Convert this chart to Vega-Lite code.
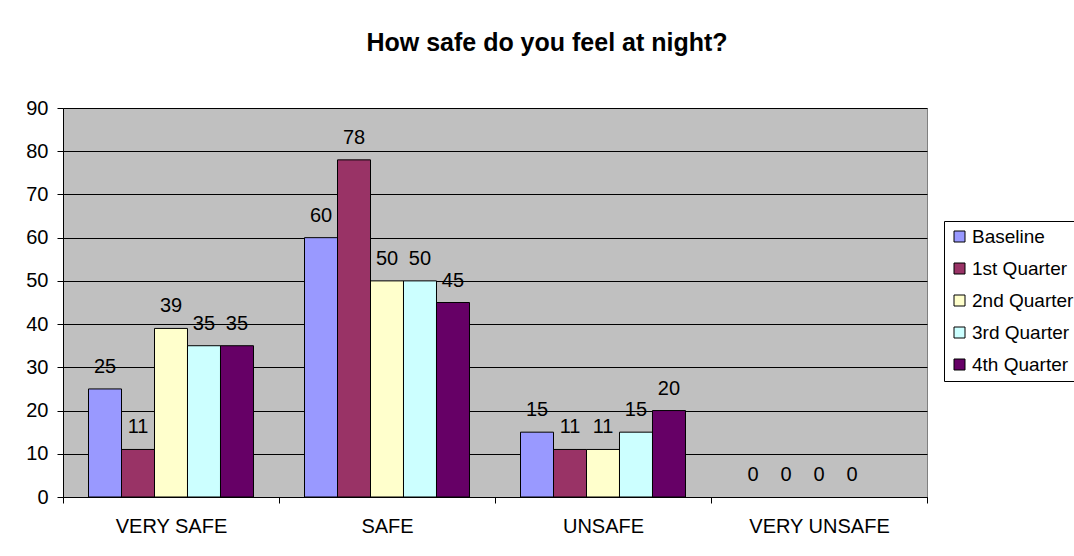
{
  "$schema": "https://vega.github.io/schema/vega-lite/v6.json",
  "width": 864,
  "height": 389,
  "autosize": {"type": "none"},
  "padding": {"left": 63, "top": 108, "right": 147, "bottom": 59},
  "background": "white",
  "title": {
    "text": "How safe do you feel at night?",
    "font": "Liberation Sans",
    "fontSize": 25,
    "fontWeight": "bold",
    "color": "black",
    "anchor": "middle",
    "frame": "group",
    "baseline": "alphabetic",
    "offset": 22,
    "dx": 52
  },
  "data": {
    "values": [
      {"feeling": "VERY SAFE", "period": "Baseline", "percent": 25},
      {"feeling": "VERY SAFE", "period": "1st Quarter", "percent": 11},
      {"feeling": "VERY SAFE", "period": "2nd Quarter", "percent": 39},
      {"feeling": "VERY SAFE", "period": "3rd Quarter", "percent": 35},
      {"feeling": "VERY SAFE", "period": "4th Quarter", "percent": 35},
      {"feeling": "SAFE", "period": "Baseline", "percent": 60},
      {"feeling": "SAFE", "period": "1st Quarter", "percent": 78},
      {"feeling": "SAFE", "period": "2nd Quarter", "percent": 50},
      {"feeling": "SAFE", "period": "3rd Quarter", "percent": 50},
      {"feeling": "SAFE", "period": "4th Quarter", "percent": 45},
      {"feeling": "UNSAFE", "period": "Baseline", "percent": 15},
      {"feeling": "UNSAFE", "period": "1st Quarter", "percent": 11},
      {"feeling": "UNSAFE", "period": "2nd Quarter", "percent": 11},
      {"feeling": "UNSAFE", "period": "3rd Quarter", "percent": 15},
      {"feeling": "UNSAFE", "period": "4th Quarter", "percent": 20},
      {"feeling": "VERY UNSAFE", "period": "Baseline", "percent": 0},
      {"feeling": "VERY UNSAFE", "period": "1st Quarter", "percent": 0},
      {"feeling": "VERY UNSAFE", "period": "2nd Quarter", "percent": 0},
      {"feeling": "VERY UNSAFE", "period": "3rd Quarter", "percent": 0}
    ]
  },
  "encoding": {
    "x": {
      "field": "feeling",
      "type": "nominal",
      "sort": ["VERY SAFE", "SAFE", "UNSAFE", "VERY UNSAFE"],
      "scale": {"paddingInner": 0, "paddingOuter": 0},
      "axis": {
        "title": null,
        "labelAngle": 0,
        "labelFont": "Liberation Sans",
        "labelFontSize": 20,
        "labelColor": "black",
        "labelPadding": 13,
        "tickBand": "extent",
        "tickSize": 6,
        "tickColor": "black",
        "domainColor": "black",
        "grid": false
      }
    },
    "xOffset": {
      "field": "period",
      "type": "nominal",
      "sort": ["Baseline", "1st Quarter", "2nd Quarter", "3rd Quarter", "4th Quarter"],
      "scale": {"paddingInner": 0, "paddingOuter": 0.773}
    },
    "y": {
      "field": "percent",
      "type": "quantitative",
      "scale": {"domain": [0, 90], "nice": false},
      "axis": {
        "title": null,
        "values": [0, 10, 20, 30, 40, 50, 60, 70, 80, 90],
        "labelFont": "Liberation Sans",
        "labelFontSize": 20,
        "labelColor": "black",
        "labelPadding": 9,
        "tickSize": 6,
        "tickColor": "black",
        "domainColor": "black",
        "grid": true,
        "gridColor": "black",
        "gridWidth": 1
      }
    }
  },
  "layer": [
    {
      "mark": {"type": "bar", "stroke": "black", "strokeWidth": 1},
      "encoding": {
        "strokeOpacity": {
          "condition": {"test": "datum.percent == 0", "value": 0},
          "value": 1
        },
        "color": {
          "field": "period",
          "type": "nominal",
          "scale": {
            "domain": ["Baseline", "1st Quarter", "2nd Quarter", "3rd Quarter", "4th Quarter"],
            "range": ["#9999FF", "#993366", "#FFFFCC", "#CCFFFF", "#660066"]
          },
          "legend": {
            "title": null,
            "orient": "none",
            "legendX": 881,
            "legendY": 113,
            "symbolType": "square",
            "symbolSize": 121,
            "symbolStrokeColor": "black",
            "symbolStrokeWidth": 1,
            "symbolOpacity": 1,
            "labelFont": "Liberation Sans",
            "labelFontSize": 19,
            "labelColor": "black",
            "labelOffset": 3,
            "labelLimit": 300,
            "rowPadding": 12,
            "padding": 6,
            "strokeColor": "black",
            "fillColor": "white"
          }
        }
      }
    },
    {
      "mark": {
        "type": "text",
        "font": "Liberation Sans",
        "fontSize": 20,
        "color": "black",
        "align": "center",
        "baseline": "alphabetic",
        "dy": -16
      },
      "encoding": {
        "text": {"field": "percent", "type": "quantitative"}
      }
    }
  ],
  "config": {
    "view": {"stroke": "#808080", "fill": "#C0C0C0"}
  }
}
